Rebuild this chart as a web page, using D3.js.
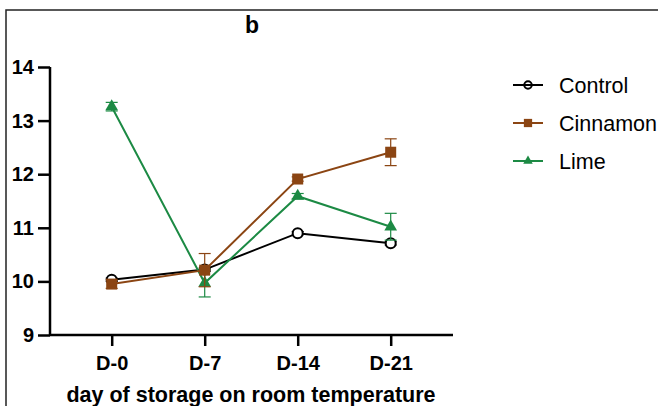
<!DOCTYPE html>
<html>
<head>
<meta charset="utf-8">
<script src="https://cdn.jsdelivr.net/npm/d3@7"></script>
<style>
  body { margin: 0; background: #fff; }
  text { font-family: "Liberation Sans", Arial, sans-serif; }
</style>
</head>
<body>
<div id="chart"></div>
<script>
// data
var days = ["D-0", "D-7", "D-14", "D-21"];
var yTicks = [9, 10, 11, 12, 13, 14];

var controlMean = [10.03, 10.22, 10.90, 10.71];
var controlSd   = [0.03, 0.03, 0.03, 0.03];
var cinnamonMean = [9.95, 10.21, 11.91, 12.41];
var cinnamonSd   = [0.08, 0.31, 0.04, 0.25];
var limeMean = [13.26, 9.97, 11.59, 11.02];
var limeSd   = [0.08, 0.26, 0.05, 0.25];

var width = 658, height = 406;
var margin = {top: 67, left: 50, right: 205, bottom: 71};

var svg = d3.select("#chart")
  .append("svg")
  .attr("width", width)
  .attr("height", height);

// frame lines of the panel
svg.append("path")
  .attr("d", "M6,406 V10 H658")
  .attr("fill", "none")
  .attr("stroke", "#222")
  .attr("stroke-width", 1.5);

var x = d3.scalePoint()
  .domain(days)
  .range([111.7, 390.7]);

var y = d3.scaleLinear()
  .domain([9, 14])
  .range([height - margin.bottom, margin.top]);

var series = [
  {name: "Control", mean: controlMean, sd: controlSd, color: "#000000", shape: "circle"},
  {name: "Cinnamon", mean: cinnamonMean, sd: cinnamonSd, color: "#8b4513", shape: "square"},
  {name: "Lime", mean: limeMean, sd: limeSd, color: "#1c8a44", shape: "triangle"}
];

// axes
var yAxis = svg.append("g")
  .attr("transform", "translate(" + margin.left + ",0)")
  .call(d3.axisLeft(y).tickValues(yTicks).tickSize(12).tickPadding(4).tickFormat(d3.format("d")));
yAxis.select(".domain").attr("stroke-width", 2.5).attr("d", "M0," + y(9) + "V" + y(14));
yAxis.selectAll(".tick line").attr("stroke-width", 2.5);
yAxis.selectAll("text")
  .attr("font-size", 20).attr("font-weight", "bold").attr("fill", "#000");

var xAxis = svg.append("g")
  .attr("transform", "translate(0," + y(9) + ")")
  .call(d3.axisBottom(x).tickSize(11).tickPadding(10));
xAxis.select(".domain").attr("stroke-width", 2.5).attr("d", "M" + margin.left + ",0H453");
xAxis.selectAll(".tick line").attr("stroke-width", 2.5);
xAxis.selectAll("text")
  .attr("font-size", 20).attr("font-weight", "bold").attr("fill", "#000");

svg.append("text")
  .attr("x", 251)
  .attr("y", 402)
  .attr("text-anchor", "middle")
  .attr("font-size", 21.5)
  .attr("font-weight", "bold")
  .text("day of storage on room temperature");

svg.append("text")
  .attr("x", 252)
  .attr("y", 33)
  .attr("text-anchor", "middle")
  .attr("font-size", 23)
  .attr("font-weight", "bold")
  .text("b");

function drawMarker(g, shape, color, k) {
  if (shape == "circle") {
    g.append("circle").attr("r", 5 * k).attr("fill", k < 1 ? "none" : "#fff").attr("stroke", color).attr("stroke-width", 2);
  } else if (shape == "square") {
    g.append("rect").attr("x", -5.5 * k).attr("y", -5.5 * k).attr("width", 11 * k).attr("height", 11 * k).attr("fill", color);
  } else {
    g.append("path").attr("d", d3.symbol().type(d3.symbolTriangle).size(70 * k * k)).attr("fill", color);
  }
}

var line = d3.line()
  .x(function(d, i) { return x(days[i]); })
  .y(function(d) { return y(d); });

// control underneath, then lime, cinnamon on top
[series[0], series[2], series[1]].forEach(function(s) {
  var g = svg.append("g");

  // error bars
  s.mean.forEach(function(m, i) {
    var cx = x(days[i]);
    var eg = g.append("g").attr("stroke", s.color).attr("stroke-width", 1.2);
    eg.append("line").attr("x1", cx).attr("x2", cx).attr("y1", y(m - s.sd[i])).attr("y2", y(m + s.sd[i]));
    eg.append("line").attr("x1", cx - 6).attr("x2", cx + 6).attr("y1", y(m - s.sd[i])).attr("y2", y(m - s.sd[i]));
    eg.append("line").attr("x1", cx - 6).attr("x2", cx + 6).attr("y1", y(m + s.sd[i])).attr("y2", y(m + s.sd[i]));
  });

  g.append("path")
    .datum(s.mean)
    .attr("d", line)
    .attr("fill", "none")
    .attr("stroke", s.color)
    .attr("stroke-width", 2);

  s.mean.forEach(function(m, i) {
    var mg = g.append("g").attr("transform", "translate(" + x(days[i]) + "," + y(m) + ")");
    drawMarker(mg, s.shape, s.color, 1);
  });
});

// legend
var legend = svg.selectAll(".legend")
  .data(series)
  .enter().append("g")
  .attr("class", "legend")
  .attr("transform", function(d, i) { return "translate(528," + (85 + i * 38) + ")"; });

legend.append("line")
  .attr("x1", -15).attr("x2", 15)
  .attr("stroke", function(d) { return d.color; })
  .attr("stroke-width", 2);

legend.each(function(d) {
  drawMarker(d3.select(this).append("g"), d.shape, d.color, 0.75);
});

legend.append("text")
  .attr("x", 31)
  .attr("y", 0)
  .attr("dy", "0.35em")
  .attr("font-size", 21.5)
  .attr("fill", "#000")
  .text(function(d) { return d.name; });
</script>
</body>
</html>
